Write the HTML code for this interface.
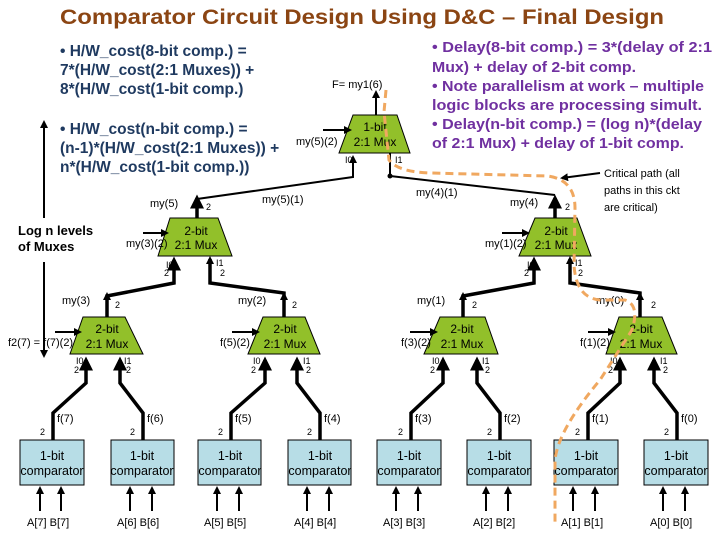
<!DOCTYPE html>
<html><head><meta charset="utf-8"><style>
html,body{margin:0;padding:0;background:#fff;width:720px;height:540px;overflow:hidden}
svg{display:block;font-family:"Liberation Sans",sans-serif}
.m{fill:#92C02A;stroke:#000;stroke-width:1}
.c{fill:#B7DDE6;stroke:#000;stroke-width:1}
.b{stroke:#000;stroke-width:3.5;fill:none}
.t{stroke:#000;stroke-width:2;fill:none}
.s{font-size:11px;fill:#000}
.x{font-size:9px;fill:#000}
.mt{font-size:12px;fill:#000;text-anchor:middle}
.ct{font-size:12.5px;fill:#000;text-anchor:middle}
.L{font-size:15.5px;font-weight:bold;fill:#1F3A60}
.R{font-size:15px;font-weight:bold;fill:#7030A0}
</style></head><body>
<svg width="720" height="540" viewBox="0 0 720 540">
<defs>
<marker id="a" markerWidth="4" markerHeight="4" refX="3" refY="2" orient="auto"><path d="M0,0 L4,2 L0,4z" fill="#000"/></marker>
</defs>
<text x="60" y="24" font-size="21" font-weight="bold" fill="#8B4513" textLength="604" lengthAdjust="spacingAndGlyphs">Comparator Circuit Design Using D&amp;C – Final Design</text>

<text class="L" x="60" y="56">• H/W_cost(8-bit comp.) =</text>
<text class="L" x="60" y="75">7*(H/W_cost(2:1 Muxes)) +</text>
<text class="L" x="60" y="94">8*(H/W_cost(1-bit comp.)</text>
<text class="L" x="60" y="134">• H/W_cost(n-bit comp.) =</text>
<text class="L" x="60" y="153">(n-1)*(H/W_cost(2:1 Muxes)) +</text>
<text class="L" x="60" y="172">n*(H/W_cost(1-bit comp.))</text>

<text class="R" x="432" y="52" textLength="280" lengthAdjust="spacingAndGlyphs">• Delay(8-bit comp.)  = 3*(delay of 2:1</text>
<text class="R" x="432" y="72" textLength="204" lengthAdjust="spacingAndGlyphs">Mux) + delay of 2-bit comp.</text>
<text class="R" x="432" y="91" textLength="272" lengthAdjust="spacingAndGlyphs">• Note parallelism at work – multiple</text>
<text class="R" x="432" y="110" textLength="270" lengthAdjust="spacingAndGlyphs">logic blocks are processing simult.</text>
<text class="R" x="432" y="129" textLength="270" lengthAdjust="spacingAndGlyphs">• Delay(n-bit comp.) = (log n)*(delay</text>
<text class="R" x="432" y="148" textLength="252" lengthAdjust="spacingAndGlyphs">of 2:1 Mux) + delay of 1-bit comp.</text>

<line x1="44" y1="218" x2="44" y2="122" class="t" marker-end="url(#a)"/>
<line x1="44" y1="262" x2="44" y2="356" class="t" marker-end="url(#a)"/>
<text x="18" y="235" font-size="13" font-weight="bold">Log n levels</text>
<text x="18" y="251" font-size="13" font-weight="bold">of Muxes</text>

<polygon class="m" points="353,115 397,115 410,153 339,153"/>
<text class="mt" x="375" y="131">1-bit</text><text class="mt" x="375" y="146">2:1 Mux</text>
<line x1="376" y1="115" x2="376" y2="92" class="t" marker-end="url(#a)"/>
<text class="s" x="332" y="88">F= my1(6)</text>
<line x1="323" y1="130" x2="350" y2="130" class="t" marker-end="url(#a)"/>
<text class="s" x="296" y="145">my(5)(2)</text>
<text class="x" x="345" y="163">I0</text><text class="x" x="395" y="163">I1</text>
<polyline class="t" points="197,199 353,177 353,157" marker-end="url(#a)"/>
<polyline class="t" points="390,153 390,176 555,195"/>
<circle cx="390" cy="176" r="2.5"/>
<text class="s" x="262" y="203">my(5)(1)</text>
<text class="s" x="416" y="196">my(4)(1)</text>

<g>
<polygon class="m" points="170,218 218,218 232,256 158,256"/>
<text class="mt" x="196" y="235">2-bit</text><text class="mt" x="196" y="249">2:1 Mux</text>
<line x1="197" y1="218" x2="197" y2="198" class="b" marker-end="url(#a)"/>
<text class="s" x="150" y="207">my(5)</text><text class="x" x="206" y="210">2</text>
<line x1="143" y1="233" x2="167" y2="233" class="t" marker-end="url(#a)"/>
<text class="s" x="126" y="247">my(3)(2)</text>
<text class="x" x="166" y="268">I0</text><text class="x" x="164" y="276">2</text>
<text class="x" x="216" y="266">I1</text><text class="x" x="220" y="276">2</text>
<polyline class="b" points="107,317 107,296 174,283 174,260" marker-end="url(#a)"/>
<polyline class="b" points="210,259 210,283 284,293 284,317"/>
<polygon points="210,256 206,264 214,264"/>
<polygon points="107,292 103,300 111,300"/>
<polygon points="284,292 280,300 288,300"/>
<text class="s" x="62" y="304">my(3)</text><text class="x" x="115" y="308">2</text>
<text class="s" x="238" y="304">my(2)</text><text class="x" x="292" y="308">2</text>
</g>
<g>
<polygon class="m" points="535,218 577,218 591,256 519,256"/>
<text class="mt" x="556" y="235">2-bit</text><text class="mt" x="556" y="249">2:1 Mux</text>
<line x1="555" y1="218" x2="555" y2="198" class="b" marker-end="url(#a)"/>
<text class="s" x="510" y="206">my(4)</text><text class="x" x="565" y="210">2</text>
<line x1="502" y1="233" x2="528" y2="233" class="t" marker-end="url(#a)"/>
<text class="s" x="485" y="247">my(1)(2)</text>
<text class="x" x="527" y="268">I0</text><text class="x" x="524" y="276">2</text>
<text class="x" x="575" y="266">I1</text><text class="x" x="578" y="276">2</text>
<polyline class="b" points="463,317 463,296 534,283 534,260" marker-end="url(#a)"/>
<polyline class="b" points="570,259 570,283 640,293 640,317"/>
<polygon points="570,256 566,264 574,264"/>
<polygon points="463,292 459,300 467,300"/>
<polygon points="640,292 636,300 644,300"/>
<text class="s" x="417" y="304">my(1)</text><text class="x" x="472" y="308">2</text>
<text class="s" x="596" y="304">my(0)</text><text class="x" x="651" y="308">2</text>
</g>

<g>
<polygon class="m" points="83,317 125,317 143,354 70,354"/>
<text class="mt" x="107" y="333">2-bit</text><text class="mt" x="107" y="348">2:1 Mux</text>
<line x1="55" y1="332" x2="80" y2="332" class="t" marker-end="url(#a)"/>
<text class="s" x="8" y="346">f2(7) = f(7)(2)</text>
<polygon class="m" points="263,317 305,317 320,354 248,354"/>
<text class="mt" x="285" y="333">2-bit</text><text class="mt" x="285" y="348">2:1 Mux</text>
<line x1="232" y1="332" x2="258" y2="332" class="t" marker-end="url(#a)"/>
<text class="s" x="220" y="346">f(5)(2)</text>
<polygon class="m" points="440,317 485,317 498,354 424,354"/>
<text class="mt" x="462" y="333">2-bit</text><text class="mt" x="462" y="348">2:1 Mux</text>
<line x1="410" y1="332" x2="436" y2="332" class="t" marker-end="url(#a)"/>
<text class="s" x="401" y="346">f(3)(2)</text>
<polygon class="m" points="619,317 662,317 677,354 606,354"/>
<text class="mt" x="641" y="333">2-bit</text><text class="mt" x="641" y="348">2:1 Mux</text>
<line x1="588" y1="332" x2="614" y2="332" class="t" marker-end="url(#a)"/>
<text class="s" x="580" y="346">f(1)(2)</text>
<g class="x">
<text x="76" y="364">I0</text><text x="74" y="373">2</text><text x="124" y="364">I1</text><text x="126" y="373">2</text>
<text x="253" y="364">I0</text><text x="251" y="373">2</text><text x="303" y="364">I1</text><text x="306" y="373">2</text>
<text x="432" y="364">I0</text><text x="430" y="373">2</text><text x="482" y="364">I1</text><text x="485" y="373">2</text>
<text x="610" y="364">I0</text><text x="608" y="373">2</text><text x="660" y="364">I1</text><text x="663" y="373">2</text>
</g>
</g>

<g>
<polyline class="b" points="53,440 53,413 86,383 86,360" marker-end="url(#a)"/>
<polyline class="b" points="143,440 143,413 120,383 120,360" marker-end="url(#a)"/>
<polyline class="b" points="231,440 231,413 265,383 265,360" marker-end="url(#a)"/>
<polyline class="b" points="320,440 320,413 297,383 297,360" marker-end="url(#a)"/>
<polyline class="b" points="411,440 411,413 443,383 443,360" marker-end="url(#a)"/>
<polyline class="b" points="500,440 500,413 477,383 477,360" marker-end="url(#a)"/>
<polyline class="b" points="588,440 588,413 620,383 620,360" marker-end="url(#a)"/>
<polyline class="b" points="677,440 677,413 654,383 654,360" marker-end="url(#a)"/>
<g class="s">
<text x="57" y="422">f(7)</text><text x="147" y="422">f(6)</text><text x="235" y="422">f(5)</text><text x="324" y="422">f(4)</text>
<text x="415" y="422">f(3)</text><text x="504" y="422">f(2)</text><text x="592" y="422">f(1)</text><text x="681" y="422">f(0)</text>
</g>
<g class="x">
<text x="40" y="435">2</text><text x="130" y="435">2</text><text x="218" y="435">2</text><text x="307" y="435">2</text>
<text x="398" y="435">2</text><text x="487" y="435">2</text><text x="575" y="435">2</text><text x="664" y="435">2</text>
</g>
<rect class="c" x="20" y="440" width="64" height="45"/><rect class="c" x="111" y="440" width="63" height="45"/>
<rect class="c" x="198" y="440" width="63" height="45"/><rect class="c" x="288" y="440" width="63" height="45"/>
<rect class="c" x="377" y="440" width="64" height="45"/><rect class="c" x="467" y="440" width="64" height="45"/>
<rect class="c" x="554" y="440" width="64" height="45"/><rect class="c" x="644" y="440" width="64" height="45"/>
<g class="ct">
<text x="52" y="460">1-bit</text><text x="52" y="475">comparator</text>
<text x="142" y="460">1-bit</text><text x="142" y="475">comparator</text>
<text x="230" y="460">1-bit</text><text x="230" y="475">comparator</text>
<text x="320" y="460">1-bit</text><text x="320" y="475">comparator</text>
<text x="409" y="460">1-bit</text><text x="409" y="475">comparator</text>
<text x="499" y="460">1-bit</text><text x="499" y="475">comparator</text>
<text x="586" y="460">1-bit</text><text x="586" y="475">comparator</text>
<text x="676" y="460">1-bit</text><text x="676" y="475">comparator</text>
</g>
<g class="t">
<line x1="40" y1="511" x2="40" y2="488" marker-end="url(#a)"/><line x1="61" y1="511" x2="61" y2="488" marker-end="url(#a)"/>
<line x1="130" y1="511" x2="130" y2="488" marker-end="url(#a)"/><line x1="152" y1="511" x2="152" y2="488" marker-end="url(#a)"/>
<line x1="217" y1="511" x2="217" y2="488" marker-end="url(#a)"/><line x1="239" y1="511" x2="239" y2="488" marker-end="url(#a)"/>
<line x1="307" y1="511" x2="307" y2="488" marker-end="url(#a)"/><line x1="329" y1="511" x2="329" y2="488" marker-end="url(#a)"/>
<line x1="396" y1="511" x2="396" y2="488" marker-end="url(#a)"/><line x1="418" y1="511" x2="418" y2="488" marker-end="url(#a)"/>
<line x1="486" y1="511" x2="486" y2="488" marker-end="url(#a)"/><line x1="508" y1="511" x2="508" y2="488" marker-end="url(#a)"/>
<line x1="573" y1="511" x2="573" y2="488" marker-end="url(#a)"/><line x1="595" y1="511" x2="595" y2="488" marker-end="url(#a)"/>
<line x1="663" y1="511" x2="663" y2="488" marker-end="url(#a)"/><line x1="685" y1="511" x2="685" y2="488" marker-end="url(#a)"/>
</g>
<g class="s">
<text x="27" y="526">A[7]  B[7]</text><text x="117" y="526">A[6]  B[6]</text>
<text x="204" y="526">A[5]  B[5]</text><text x="294" y="526">A[4]  B[4]</text>
<text x="383" y="526">A[3]  B[3]</text><text x="473" y="526">A[2]  B[2]</text>
<text x="561" y="526">A[1]  B[1]</text><text x="650" y="526">A[0]  B[0]</text>
</g>
</g>

<path d="M386,90 L384,112 L389,160 Q398,172 430,173 L548,176 Q575,180 575,208 L574,265 Q576,298 600,300 L625,300 Q640,305 632,330 L600,380 Q558,430 555,460 L555,525" fill="none" stroke="#F0A860" stroke-width="3" stroke-dasharray="8,5"/>
<line x1="600" y1="173" x2="562" y2="178" class="t" marker-end="url(#a)"/>
<text class="s" x="604" y="177" font-size="12">Critical path (all</text>
<text class="s" x="604" y="194" font-size="12">paths in this ckt</text>
<text class="s" x="604" y="211" font-size="12">are critical)</text>
</svg>
</body></html>
